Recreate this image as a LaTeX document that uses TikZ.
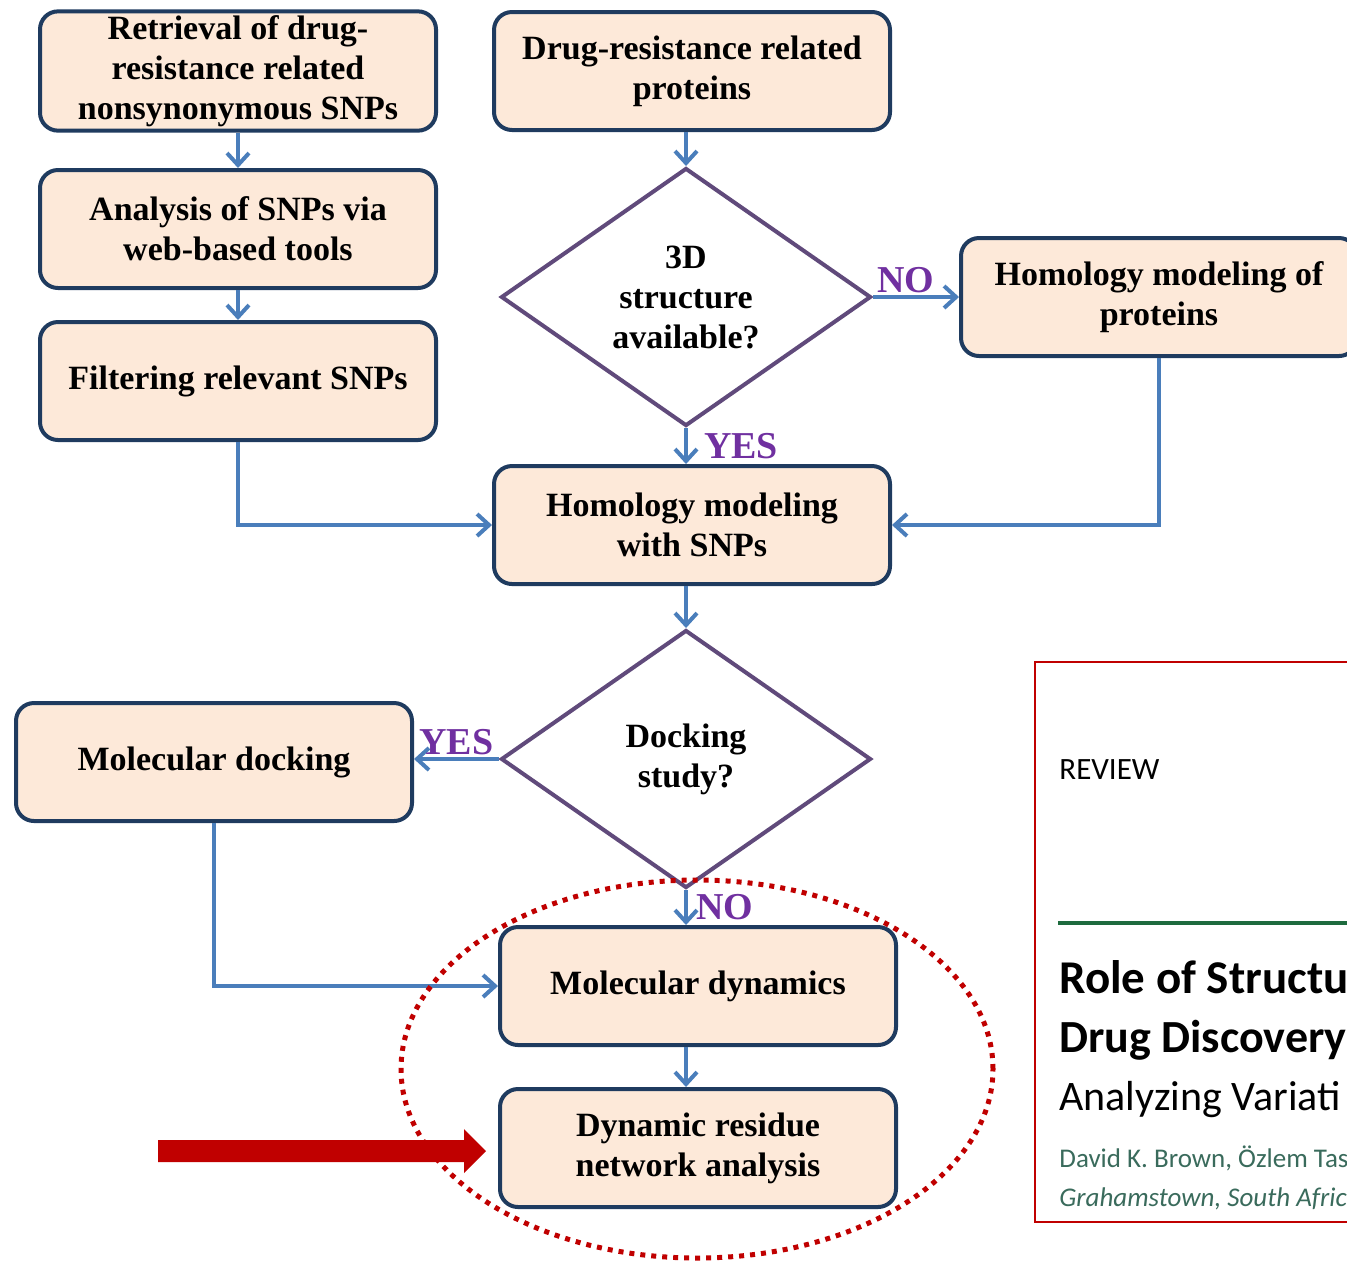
\documentclass[tikz,border=0pt]{standalone}
\usepackage{fontspec}
\setmainfont{Liberation Serif}
\newfontfamily\insetfont{Carlito}
\usetikzlibrary{shapes.geometric,arrows.meta,positioning}

\definecolor{boxfill}{HTML}{FDE9D9}
\definecolor{boxline}{HTML}{1F3B5F}
\definecolor{flowblue}{HTML}{4A7EBB}
\definecolor{decision}{HTML}{604A7B}
\definecolor{answerpurple}{HTML}{7030A0}
\definecolor{markred}{HTML}{C00000}
\definecolor{rulegreen}{HTML}{1E6B3E}
\definecolor{authorgreen}{HTML}{3A6B5C}

\begin{document}
\begin{tikzpicture}[
        x=0.5pt, y=-0.5pt,
        every node/.style={font=\bfseries\fontsize{17}{20}\selectfont},
        stepbox/.style={rectangle, rounded corners=9pt, draw=boxline, fill=boxfill, line width=2pt,
            minimum width=198pt, minimum height=59pt, align=center, inner sep=2pt},
        query/.style={diamond, draw=decision, fill=white, line width=2pt, aspect=1.44,
            minimum width=185pt, minimum height=129pt, inner sep=0pt, align=center},
        flow/.style={draw=flowblue, line width=2pt, -{Straight Barb[length=6pt, width=11pt]}},
        answer/.style={text=answerpurple, font=\bfseries\fontsize{19}{20}\selectfont, inner sep=1pt},
        papertext/.style={anchor=base west, inner sep=0pt, text=black}
    ]

    \useasboundingbox (0,0) rectangle (1347,1260);
    \clip (0,0) rectangle (1347,1260);

    % flow chart
    \node[stepbox] (retrieve) at (238,71) {Retrieval of drug-\\resistance related\\nonsynonymous SNPs};
    \node[stepbox] (analyse) at (238,229) {Analysis of SNPs via\\web-based tools};
    \node[stepbox] (filter) at (238,381) {Filtering relevant SNPs};
    \node[stepbox] (proteins) at (692,71) {Drug-resistance related\\proteins};
    \node[query] (structure) at (686,297) {3D\\structure\\available?};
    \node[stepbox] (homprot) at (1159,297) {Homology modeling of\\proteins};
    \node[stepbox] (homsnp) at (692,525) {Homology modeling\\with SNPs};
    \node[query] (docking) at (686,759) {Docking\\study?};
    \node[stepbox] (dock) at (214,762) {Molecular docking};
    \node[stepbox] (dynamics) at (698,986) {Molecular dynamics};
    \node[stepbox] (network) at (698,1148) {Dynamic residue\\network analysis};

    \draw[flow] (retrieve) -- (analyse);
    \draw[flow] (analyse) -- (filter);
    \draw[flow] (structure.north |- proteins.south) -- (structure.north);
    \draw[flow] (structure.east) -- (homprot.west) node[answer, pos=0.38, above] {NO};
    \draw[flow] (structure.south) -- (structure.south |- homsnp.north) node[answer, pos=0.5, right=7pt] {YES};
    \draw[flow] (filter.south) |- (homsnp.west);
    \draw[flow] (homprot.south) |- (homsnp.east);
    \draw[flow] (homsnp.south -| docking.north) -- (docking.north);
    \draw[flow] (docking.west) -- (docking.west -| dock.east) node[answer, midway, above] {YES};
    \draw[flow] (docking.south) -- (docking.south |- dynamics.north) node[answer, midway, right=3pt] {NO};
    \draw[flow] (dock.south) |- (dynamics.west);
    \draw[flow] (dynamics.south -| docking.south) -- (network.north -| docking.south);

    % highlight
    \draw[markred, line width=2.5pt, dash pattern=on 2.5pt off 3pt] (697,1069) ellipse [x radius=148pt, y radius=94.5pt];
    \coordinate (pointer) at ([xshift=-6pt, yshift=-1.5pt]network.west);
    \fill[markred] (pointer) -- ++(-22,-22) -- ++(0,11) -- ++(-306,0) -- ++(0,22) -- ++(306,0) -- ++(0,11) -- cycle;

    % paper inset
    \draw[markred, line width=1pt, fill=white] (1035,662) rectangle (1380,1222);
    \node[papertext, font=\insetfont\fontsize{15.5}{18}\selectfont] (kind) at (1059,779) {REVIEW};
    \draw[rulegreen, line width=2pt] (1058,923) -- (1380,923);
    \node[papertext, font=\insetfont\bfseries\fontsize{23.5}{28}\selectfont] (title) at (1059,993) {Role of Structu};
    \node[papertext, font=\insetfont\bfseries\fontsize{23}{28}\selectfont] (titlemore) at (1059,1052) {Drug Discovery};
    \node[papertext, font=\insetfont\fontsize{21}{25}\selectfont] (subtitle) at (1059,1110) {Analyzing Variati};
    \node[papertext, text=authorgreen, font=\insetfont\fontsize{13.5}{16}\selectfont] (authors) at (1059,1167) {David K. Brown, Özlem Tas};
    \node[papertext, text=authorgreen, font=\insetfont\itshape\fontsize{13.5}{16}\selectfont] (place) at (1059,1206) {Grahamstown, South Afric};
\end{tikzpicture}
\end{document}
